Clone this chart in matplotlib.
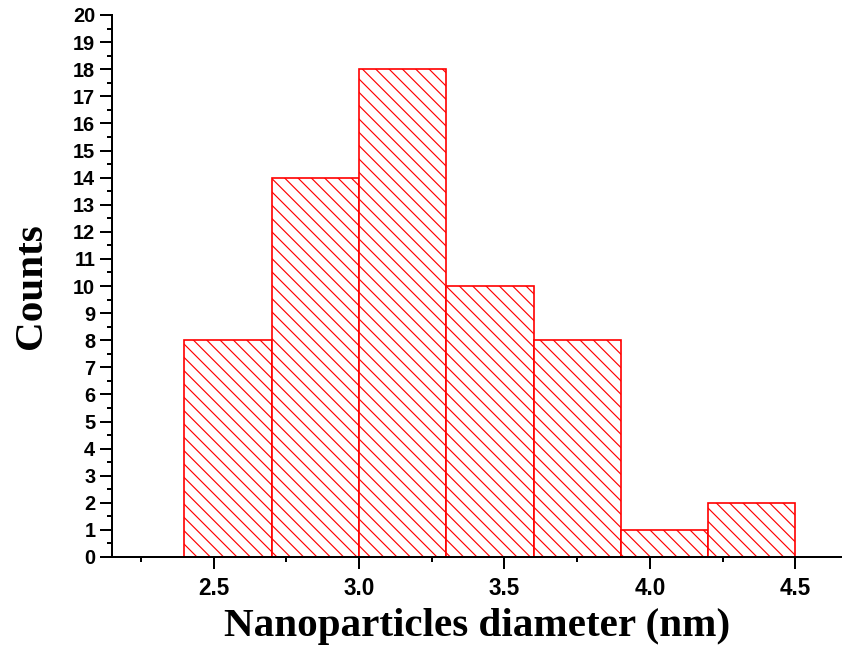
import numpy as np
import matplotlib
matplotlib.use('Agg')
import matplotlib.pyplot as plt
from matplotlib.ticker import MultipleLocator, FormatStrFormatter

######### Histogram data
BinEdges = np.array([2.4, 2.7, 3.0, 3.3, 3.6, 3.9, 4.2, 4.5])
Counts = np.array([8, 14, 18, 10, 8, 1, 2])

plt.rcParams['hatch.linewidth'] = 0.7
BackHatch = chr(92) * 3  # denser back-diagonal hatch

fig = plt.figure(figsize=(842/120., 648/120.), dpi=120)
ax = fig.add_axes([112/842., 1-557/648., 1-112/842., (557-15)/648.])

ax.bar(BinEdges[:-1], Counts, width=np.diff(BinEdges), align='edge',
       color='white', edgecolor='red', hatch=BackHatch, linewidth=1.0)

ax.set_xlim(2.151, 4.66)
ax.set_ylim(0, 20)

ax.xaxis.set_major_locator(MultipleLocator(0.5))
ax.xaxis.set_minor_locator(MultipleLocator(0.25))
ax.xaxis.set_major_formatter(FormatStrFormatter('%.1f'))
ax.yaxis.set_major_locator(MultipleLocator(1))
ax.yaxis.set_minor_locator(MultipleLocator(0.5))

for s in ['top', 'right']:
    ax.spines[s].set_visible(False)
for s in ['left', 'bottom']:
    ax.spines[s].set_linewidth(1.2)

ax.tick_params(which='major', direction='out', length=7, width=1.2)
ax.tick_params(which='minor', direction='out', length=3, width=1.2)
ax.tick_params(axis='y', which='major', pad=3)
ax.tick_params(axis='x', which='major', pad=5)

for lab in ax.get_yticklabels():
    lab.set_fontfamily('Liberation Sans')
    lab.set_fontweight('bold')
    lab.set_fontsize(12)
for lab in ax.get_xticklabels():
    lab.set_fontfamily('Liberation Sans')
    lab.set_fontweight('bold')
    lab.set_fontsize(13.5)

ax.set_xlabel('Nanoparticles diameter (nm)', fontfamily='Liberation Serif',
              fontweight='bold', fontsize=24.7, labelpad=5)
ax.set_ylabel('Counts', fontfamily='Liberation Serif',
              fontweight='bold', fontsize=24.7, labelpad=14)

fig.savefig('out.png', dpi=120)
